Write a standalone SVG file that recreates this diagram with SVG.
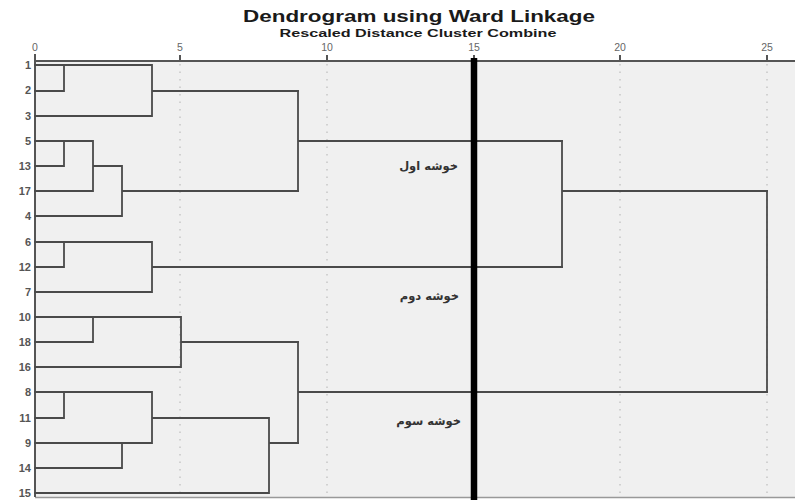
<svg xmlns="http://www.w3.org/2000/svg" width="795" height="500" viewBox="0 0 795 500">
  <style>
    .title { font-family: "Liberation Sans", Arial, sans-serif; font-weight: bold; fill: #1a1a1a; }
    .tick { font-family: "Liberation Sans", Arial, sans-serif; font-size: 10.5px; fill: #666; text-anchor: middle; }
    .leaf { font-family: "Liberation Sans", Arial, sans-serif; font-size: 11px; font-weight: bold; fill: #555; text-anchor: end; }
    .fa { font-family: "DejaVu Sans", "Noto Sans", sans-serif; font-size: 11.5px; font-weight: bold; fill: #333; text-anchor: end; }
    .grid { stroke: #bdbdbd; stroke-width: 1.2; stroke-dasharray: 1.5 6; }
    .link { stroke: #4a4a4a; stroke-width: 1.8; fill: none; stroke-linecap: square; }
    .axis { stroke: #555; stroke-width: 2; fill: none; }
  </style>
  <rect width="795" height="500" fill="#ffffff"/>
  <rect x="35" y="61" width="760" height="436" fill="#f0f0f0"/>
  <line x1="35" y1="497.5" x2="795" y2="497.5" stroke="#999" stroke-width="1.5"/>

  <g id="title">
    <text class="title" x="419" y="22" font-size="16" text-anchor="middle" textLength="352" lengthAdjust="spacingAndGlyphs">Dendrogram using Ward Linkage</text>
    <text class="title" x="418" y="37" font-size="10" text-anchor="middle" textLength="277" lengthAdjust="spacingAndGlyphs">Rescaled Distance Cluster Combine</text>
  </g>

  <g id="grid">
    <line class="grid" x1="180" y1="64" x2="180" y2="497"/>
    <line class="grid" x1="327" y1="64" x2="327" y2="497"/>
    <line class="grid" x1="620" y1="64" x2="620" y2="497"/>
    <line class="grid" x1="767" y1="64" x2="767" y2="497"/>
  </g>

  <g id="axis">
    <line class="axis" x1="35" y1="61" x2="795" y2="61"/>
    <line class="axis" x1="35" y1="54" x2="35" y2="497"/>
    <line class="axis" x1="180" y1="55" x2="180" y2="61"/>
    <line class="axis" x1="327" y1="55" x2="327" y2="61"/>
    <line class="axis" x1="474" y1="55" x2="474" y2="61"/>
    <line class="axis" x1="620" y1="55" x2="620" y2="61"/>
    <line class="axis" x1="767" y1="55" x2="767" y2="61"/>
    <text class="tick" x="35" y="51">0</text>
    <text class="tick" x="180" y="51">5</text>
    <text class="tick" x="327" y="51">10</text>
    <text class="tick" x="474" y="51">15</text>
    <text class="tick" x="620" y="51">20</text>
    <text class="tick" x="767" y="51">25</text>
  </g>

  <g id="leaves">
    <g id="leaf-1"><text class="leaf" x="31" y="69">1</text></g>
    <g id="leaf-2"><text class="leaf" x="31" y="94">2</text></g>
    <g id="leaf-3"><text class="leaf" x="31" y="120">3</text></g>
    <g id="leaf-5"><text class="leaf" x="31" y="145">5</text></g>
    <g id="leaf-13"><text class="leaf" x="31" y="170">13</text></g>
    <g id="leaf-17"><text class="leaf" x="31" y="195">17</text></g>
    <g id="leaf-4"><text class="leaf" x="31" y="220">4</text></g>
    <g id="leaf-6"><text class="leaf" x="31" y="246">6</text></g>
    <g id="leaf-12"><text class="leaf" x="31" y="271">12</text></g>
    <g id="leaf-7"><text class="leaf" x="31" y="296">7</text></g>
    <g id="leaf-10"><text class="leaf" x="31" y="321">10</text></g>
    <g id="leaf-18"><text class="leaf" x="31" y="346">18</text></g>
    <g id="leaf-16"><text class="leaf" x="31" y="371">16</text></g>
    <g id="leaf-8"><text class="leaf" x="31" y="396">8</text></g>
    <g id="leaf-11"><text class="leaf" x="31" y="422">11</text></g>
    <g id="leaf-9"><text class="leaf" x="31" y="447">9</text></g>
    <g id="leaf-14"><text class="leaf" x="31" y="472">14</text></g>
    <g id="leaf-15"><text class="leaf" x="31" y="497">15</text></g>
  </g>

  <g id="connectors">
    <path class="link" d="M35 65 H152 V116 H35 M35 91 H64 V65 M152 91 H298"/>
    <path class="link" d="M35 141 H93 V191 H35 M35 166 H64 V141 M93 166 H122 V216 H35 M122 191 H298"/>
    <path class="link" d="M298 91 V191 M298 141 H562"/>
    <path class="link" d="M35 242 H152 V292 H35 M35 267 H64 V242 M152 267 H562"/>
    <path class="link" d="M562 141 V267 M562 191 H767"/>
    <path class="link" d="M35 317 H181 V367 H35 M35 342 H93 V317 M181 342 H298"/>
    <path class="link" d="M35 392 H152 V443 H35 M35 418 H64 V392 M35 468 H122 V443 M152 418 H269 V493 H35 M269 443 H298"/>
    <path class="link" d="M298 342 V443 M298 392 H767"/>
    <path class="link" d="M767 191 V392"/>
  </g>

  <line id="cut-line" x1="474" y1="58" x2="474" y2="500" stroke="#000" stroke-width="6.5"/>

  <g id="labels">
    <text class="fa" x="458" y="170">خوشه اول</text>
    <text class="fa" x="459" y="300">خوشه دوم</text>
    <text class="fa" x="461" y="425">خوشه سوم</text>
  </g>
</svg>
